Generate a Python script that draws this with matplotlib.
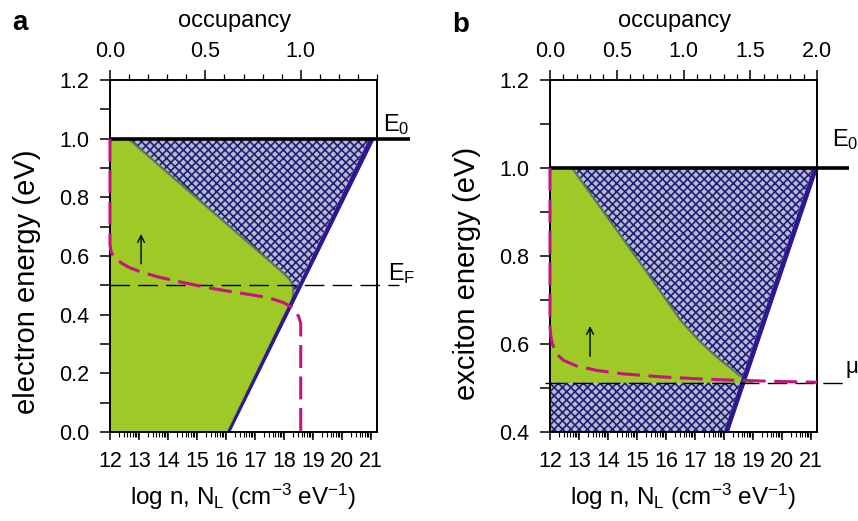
import matplotlib
matplotlib.use("Agg")
import matplotlib.pyplot as plt
import numpy as np
from matplotlib.ticker import FixedLocator, MultipleLocator, FormatStrFormatter

plt.rcParams['font.family'] = ['Liberation Sans', 'DejaVu Sans']
plt.rcParams['mathtext.fontset'] = 'custom'
plt.rcParams['mathtext.rm'] = 'Liberation Sans'
plt.rcParams['mathtext.it'] = 'Liberation Sans:italic'
plt.rcParams['hatch.linewidth'] = 1.2

GREEN = '#9fc927'
GREEN_EDGE = '#5c775f'
NAVY = '#2b1790'
HATCH = '#20207a'
HATCH_BG = '#b9b9cf'
MAGENTA = '#c4157f'

# ---- panel a : electrons ----
a_E0 = 1.0
a_EF = 0.5
a_blue_E = [0.0, 1.0]
a_blue_lo = [16.04, 20.92]
a_blue_hi = [16.10, 21.08]
a_green_x = [12.0, 12.63, 17.45, 18.0, 18.2, 18.3, 18.32, 18.28, 16.06, 12.0]
a_green_E = [1.0, 1.0, 0.587, 0.54, 0.519, 0.5, 0.48, 0.45, 0.0, 0.0]
a_occ = [0.0, 0.0, 0.004, 0.012, 0.03, 0.06, 0.1, 0.16, 0.25, 0.35, 0.44, 0.53, 0.63,
         0.74, 0.81, 0.86, 0.91, 0.95, 0.975, 0.99, 1.0, 1.0]
a_occ_E = [1.0, 0.64, 0.62, 0.605, 0.59, 0.576, 0.561, 0.546, 0.529, 0.514, 0.502, 0.49, 0.479,
           0.468, 0.46, 0.452, 0.441, 0.427, 0.41, 0.392, 0.37, 0.0]
a_arrow = [13.07, 0.564, 0.684]

# ---- panel b : excitons ----
b_E0 = 1.0
b_mu = 0.512
b_blue_E = [0.4, 1.0]
b_blue_lo = [17.98, 21.06]
b_blue_hi = [18.12, 21.20]
b_green_x = [12.0, 12.76, 15.05, 16.5, 17.1, 17.5, 17.9, 18.2, 18.5, 18.8, 18.95, 12.0]
b_green_E = [1.0, 1.0, 0.79, 0.654, 0.61, 0.585, 0.562, 0.547, 0.53, 0.518, 0.512, 0.512]
b_occ = [0.0, 0.0, 0.005, 0.015, 0.03, 0.055, 0.1, 0.2, 0.35, 0.55, 0.85, 1.1, 1.35, 1.7, 2.0]
b_occ_E = [1.0, 0.64, 0.62, 0.603, 0.59, 0.576, 0.563, 0.55, 0.54, 0.532, 0.525, 0.521, 0.518, 0.515, 0.513]
b_arrow = [13.38, 0.566, 0.647]

log_ticks = list(range(12, 22))
log_minor = [d + np.log10(k) for d in range(12, 21) for k in range(2, 10)]

fig = plt.figure(figsize=(8.58, 5.21), dpi=100)
W, H = 858.0, 521.0


def panel(left, yticks, occ_ticks):
    ax = fig.add_axes([left / W, (H - 432) / H, 267 / W, 352 / H])
    ax.xaxis.set_major_locator(FixedLocator(log_ticks))
    ax.xaxis.set_minor_locator(FixedLocator(log_minor))
    ax.xaxis.set_major_formatter(FormatStrFormatter('%d'))
    ax.yaxis.set_major_locator(FixedLocator(yticks))
    ax.yaxis.set_minor_locator(MultipleLocator(0.1))
    ax.yaxis.set_major_formatter(FormatStrFormatter('%.1f'))
    ax.tick_params(axis='x', which='major', direction='out', length=6, width=1.1, pad=8, labelsize=15.5)
    ax.tick_params(axis='x', which='minor', direction='out', length=3.5, width=0.8)
    ax.tick_params(axis='y', which='both', direction='out', length=7, width=1.1, pad=8, labelsize=15.5)
    ax.tick_params(right=False, top=False, which='both')
    for s in ax.spines.values():
        s.set_linewidth(1.2)
    ax2 = ax.twiny()
    ax2.xaxis.set_major_locator(FixedLocator(occ_ticks))
    ax2.xaxis.set_minor_locator(MultipleLocator(0.1))
    ax2.xaxis.set_major_formatter(FormatStrFormatter('%.1f'))
    ax2.tick_params(axis='x', which='major', direction='out', length=7, width=1.1, pad=6, labelsize=15.5)
    ax2.tick_params(axis='x', which='minor', direction='out', length=4, width=0.9)
    for s in ax2.spines.values():
        s.set_linewidth(1.2)
    return ax, ax2


def dashed(ax, x, y, color, lw, dash, **kw):
    ln, = ax.plot(x, y, color=color, lw=lw, **kw)
    ln.set_dashes(dash)
    return ln


# ---------------- panel a ----------------
ax, ax2 = panel(110, [0.0, 0.2, 0.4, 0.6, 0.8, 1.0, 1.2], [0.0, 0.5, 1.0])
ax.fill_betweenx([0.0, 1.0], [12, 12], a_blue_lo, facecolor=HATCH_BG, edgecolor=HATCH,
                 hatch='xxxx', linewidth=0, zorder=1)
ax.fill(a_green_x, a_green_E, facecolor=GREEN, edgecolor='none', zorder=2)
ax.plot(a_green_x[1:9], a_green_E[1:9], color=GREEN_EDGE, lw=1.6, zorder=3)
ax.fill_betweenx(a_blue_E, a_blue_lo, a_blue_hi, color=NAVY, linewidth=0.8, zorder=4)
ax.plot([12, 22.35], [a_E0, a_E0], color='black', lw=2.6, zorder=5, clip_on=False, solid_capstyle='butt')
dashed(ax, [12, 21.95], [a_EF, a_EF], 'black', 1.0, (14, 6), zorder=5, clip_on=False)
ax.annotate('', xy=(a_arrow[0], a_arrow[2]), xytext=(a_arrow[0], a_arrow[1]),
            arrowprops=dict(arrowstyle='->', color='black', lw=1.0, mutation_scale=12), zorder=6)
dashed(ax2, a_occ, a_occ_E, MAGENTA, 2.2, (7.5, 2.8), clip_on=False, zorder=6)
ax.text(21.41, 1.027, r'E$_\mathregular{0}$', fontsize=17, va='baseline', ha='left', clip_on=False)
ax.text(21.59, 0.519, r'E$_\mathregular{F}$', fontsize=17, va='baseline', ha='left', clip_on=False)
ax.set_xlim(12, 21.2)
ax.set_ylim(0, 1.2)
ax2.set_xlim(0, 1.4)

# ---------------- panel b ----------------
bx, bx2 = panel(550, [0.4, 0.6, 0.8, 1.0, 1.2], [0.0, 0.5, 1.0, 1.5, 2.0])
bx.fill_betweenx(b_blue_E, [12, 12], b_blue_lo, facecolor=HATCH_BG, edgecolor=HATCH,
                 hatch='xxxx', linewidth=0, zorder=1)
bx.fill(b_green_x, b_green_E, facecolor=GREEN, edgecolor='none', zorder=2)
bx.plot(b_green_x[1:11], b_green_E[1:11], color=GREEN_EDGE, lw=1.6, zorder=3)
bx.fill_betweenx(b_blue_E, b_blue_lo, b_blue_hi, color=NAVY, linewidth=0.8, zorder=4)
bx.plot([12, 22.3], [b_E0, b_E0], color='black', lw=2.6, zorder=5, clip_on=False, solid_capstyle='butt')
dashed(bx, [11.82, 22.25], [b_mu, b_mu], 'black', 1.0, (14, 6), zorder=5, clip_on=False)
bx.annotate('', xy=(b_arrow[0], b_arrow[2]), xytext=(b_arrow[0], b_arrow[1]),
            arrowprops=dict(arrowstyle='->', color='black', lw=1.0, mutation_scale=12), zorder=6)
dashed(bx2, b_occ, b_occ_E, MAGENTA, 2.2, (7.5, 2.8), clip_on=False, zorder=6)
bx.text(21.7, 1.049, r'E$_\mathregular{0}$', fontsize=17, va='baseline', ha='left', clip_on=False)
bx.text(22.17, 0.534, r'$\mathregular{\mu}$', fontsize=16, va='baseline', ha='left', clip_on=False)
bx.set_xlim(12, 21.2)
bx.set_ylim(0.4, 1.2)
bx2.set_xlim(0, 2.0)

# ---------------- labels ----------------
xlab = r'log n, N$_\mathregular{L}$ (cm$^\mathregular{-3}$ eV$^\mathregular{-1}$)'
for cx, cxo, ylab, ycx, ycy, tag, tx, ty in [
        (243, 235, 'electron energy (eV)', 27, 282, 'a', 12, 30),
        (683, 675, 'exciton energy (eV)', 467, 273, 'b', 452, 32)]:
    fig.text(cxo / W, 1 - 27 / H, 'occupancy', fontsize=17, ha='center', va='baseline')
    fig.text(cx / W, 1 - 505 / H, xlab, fontsize=17.5, ha='center', va='baseline')
    fig.text(ycx / W, 1 - ycy / H, ylab, fontsize=21, ha='center', va='center', rotation=90)
    fig.text(tx / W, 1 - ty / H, tag, fontsize=20, fontweight='bold', ha='left', va='baseline')

fig.savefig('out.png', dpi=100)
